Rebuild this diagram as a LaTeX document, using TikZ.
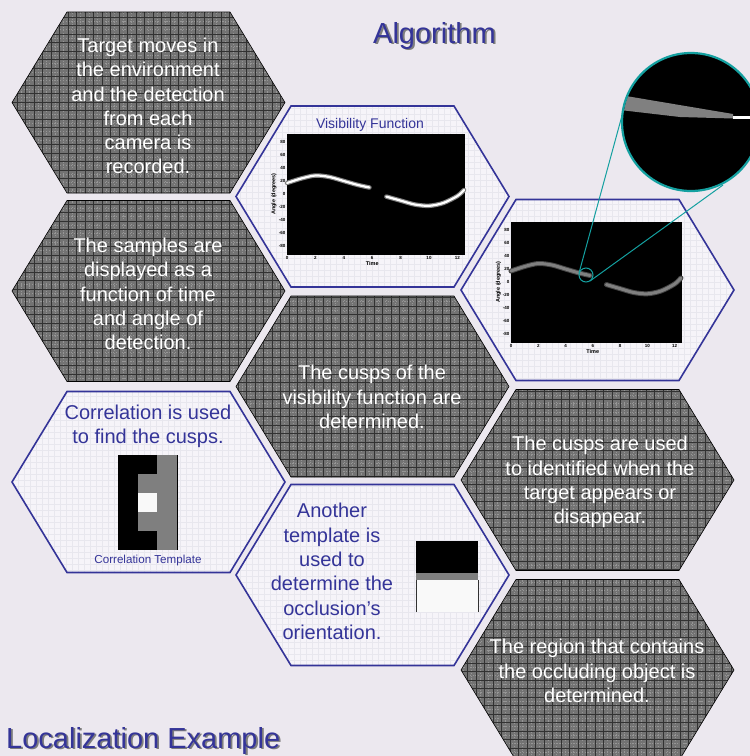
\documentclass[tikz,border=0pt]{standalone}
\usepackage{fontspec}
\setmainfont{Liberation Sans}
\usetikzlibrary{calc}
\definecolor{bg}{RGB}{236,232,239}
\definecolor{navy}{RGB}{52,52,152}
\definecolor{hexlight}{RGB}{246,244,249}
\definecolor{hexgrid}{RGB}{232,231,238}
\definecolor{darkfill}{RGB}{115,115,115}
\definecolor{darkline}{RGB}{50,50,50}
\definecolor{darkdot}{RGB}{150,150,150}
\definecolor{tealc}{RGB}{20,160,160}
\definecolor{tgray}{RGB}{127,127,127}
\definecolor{twhite}{RGB}{249,249,249}
\definecolor{shadowc}{RGB}{125,125,125}

\newcommand\hexat[2]{({#1-136.5},{#2}) -- ({#1-81.5},{#2-90.5}) -- ({#1+81.5},{#2-90.5}) -- ({#1+136.5},{#2}) -- ({#1+81.5},{#2+90.5}) -- ({#1-81.5},{#2+90.5}) -- cycle}

\newcommand\darkhex[2]{%
  \begin{scope}
    \clip \hexat{#1}{#2};
    \fill[darkfill] ({#1-140},{#2-95}) rectangle ({#1+140},{#2+95});
    \begin{scope}[shift={(4.25,4.25)}]
      \draw[darkdot,line width=0.6,dash pattern=on 1.2pt off 1.6pt,step=8.5pt] ({#1-146},{#2-101}) grid ({#1+140},{#2+95});
    \end{scope}
    \draw[darkline,line width=0.9,step=8.5pt] ({#1-140},{#2-95}) grid ({#1+140},{#2+95});
  \end{scope}
  \draw[black,line width=0.6] \hexat{#1}{#2};
}

\newcommand\lighthex[2]{%
  \fill[hexlight] \hexat{#1}{#2};
  \begin{scope}
    \clip \hexat{#1}{#2};
    \draw[hexgrid,line width=0.5,step=6pt] ({#1-140},{#2-95}) grid ({#1+140},{#2+95});
  \end{scope}
  \draw[navy,line width=1.6] \hexat{#1}{#2};
}

% plot drawn in local coordinates: 178 x 121
\newcommand\visplot[1]{%
  \fill[black] (0,0) rectangle (178,121);
  #1
  \foreach \v/\yy in {80/8,60/21,40/34,20/47,0/60,-20/73,-40/86,-60/99,-80/112}
    \node[ticklab,anchor=east] at (-1,\yy) {\v};
  \foreach \v/\xx in {0/0,2/28.4,4/56.8,6/85.2,8/113.6,10/142,12/170.4}
    \node[ticklab,anchor=north] at (\xx,122) {\v};
  \node[axlab,anchor=north] at (85.2,127) {Time};
  \node[axlab,rotate=90] at (-13,60) {Angle (degrees)};
}
\newcommand\curveA{(0,49) (14.2,44.5) (28.4,41.5) (42.6,43) (56.8,47) (71,51) (82.4,53.5)}
\newcommand\curveB{(99.4,62.6) (113.6,66.6) (127.8,70.5) (142,71.8) (156.2,69) (170.4,62) (177,56)}
\newcommand\shadowed[1]{\makebox[0pt][l]{\hspace{1.8pt}\raisebox{-1.8pt}{\textcolor{shadowc}{#1}}}#1}

\tikzset{
  darktext/.style={text=white,align=center,font=\fontsize{20}{24.3}\selectfont,inner sep=0},
  lighttext/.style={text=navy,align=center,font=\fontsize{20}{24.3}\selectfont,inner sep=0},
  ticklab/.style={font=\fontsize{4.5}{5}\selectfont\bfseries,text=black,inner sep=0.5},
  axlab/.style={font=\fontsize{5.5}{6}\selectfont\bfseries,text=black,inner sep=0},
  titletext/.style={font=\fontsize{29}{34}\selectfont,inner sep=0,text=navy}
}

\begin{document}
\begin{tikzpicture}[x=1pt,y=-1pt]
\useasboundingbox (0,0) rectangle (750,756);
\fill[bg] (0,0) rectangle (750,756);

% hexagons
\darkhex{148.5}{102.5}
\darkhex{148.5}{291}
\lighthex{148.5}{482}
\lighthex{372.5}{196.5}
\darkhex{372.5}{386.5}
\lighthex{372.5}{575}
\lighthex{597.5}{290}
\darkhex{597.5}{480}
\darkhex{597.5}{670}

% titles
\node[titletext,anchor=base west] (alg) at (373,43) {\shadowed{Algorithm}};
\node[titletext,anchor=base west] (loc) at (6,748) {\shadowed{Localization Example}};

% dark hex texts
\node[darktext] (t1) at (148,106) {Target moves in\\the environment\\and the detection\\from each\\camera is\\recorded.};
\node[darktext] (t2) at (148,294) {The samples are\\displayed as a\\function of time\\and angle of\\detection.};
\node[darktext] (t3) at (372,397) {The cusps of the\\visibility function are\\determined.};
\node[darktext] (t4) at (600,482) {The cusps are used\\to identified when the\\target appears or\\disappear.};
\node[darktext] (t5) at (597,671) {The region that contains\\the occluding object is\\determined.};

% light hex texts
\node[lighttext] (t6) at (148,426.5) {Correlation is used\\to find the cusps.};
\node[lighttext] (t7) at (332,571.5) {Another\\template is\\used to\\determine the\\occlusion’s\\orientation.};
\node[text=navy,font=\fontsize{11.6}{13}\selectfont,inner sep=0] (cap1) at (148,560) {Correlation Template};
\node[text=navy,font=\fontsize{14}{16}\selectfont,inner sep=0] (cap2) at (370,125) {Visibility Function};

% correlation template
\fill[black] (118,455) rectangle (137.7,550);
\fill[tgray] (157.3,455) rectangle (177,550);
\fill[black] (137.7,455) rectangle (157.3,474);
\fill[tgray] (137.7,474) rectangle (157.3,493);
\fill[twhite] (137.7,493) rectangle (157.3,512);
\fill[tgray] (137.7,512) rectangle (157.3,531);
\fill[black] (137.7,531) rectangle (157.3,550);
\draw[black,line width=0.6] (177,455) -- (177,550);

% orientation template
\fill[black] (416,541) rectangle (478,573);
\fill[tgray] (416,573) rectangle (478,580);
\fill[twhite] (416,580) rectangle (478,612);
\draw[darkline,line width=0.7] (416,580) -- (416,612) (478,580) -- (478,612);

% plot 1
\begin{scope}[shift={(287,134)}]
  \visplot{%
    \draw[gray,line width=4.5,line cap=round] plot[smooth] coordinates {\curveA};
    \draw[white,line width=2.2,line cap=round] plot[smooth] coordinates {\curveA};
    \draw[gray,line width=4.5,line cap=round] plot[smooth] coordinates {\curveB};
    \draw[white,line width=2.2,line cap=round] plot[smooth] coordinates {\curveB};
  }
\end{scope}

% plot 2
\begin{scope}[shift={(511,222)},xscale=0.96]
  \visplot{%
    \draw[gray!55!black,line width=5,line cap=round] plot[smooth] coordinates {\curveA};
    \draw[gray,line width=3,line cap=round] plot[smooth] coordinates {\curveA};
    \draw[gray!55!black,line width=5,line cap=round] plot[smooth] coordinates {\curveB};
    \draw[gray,line width=3,line cap=round] plot[smooth] coordinates {\curveB};
  }
\end{scope}

% zoom
\node[circle,draw=tealc,line width=1,minimum size=14,inner sep=0] (zsmall) at (586,275) {};
\coordinate (s1) at (579,273);
\coordinate (s2) at (590,281);
\coordinate (b1) at (623,112);
\coordinate (b2) at (723,185);
\draw[tealc,line width=1] (s1) -- (b1);
\draw[tealc,line width=1] (s2) -- (b2);
\node[circle,fill=black,minimum size=138,inner sep=0] (zbig) at (691,122) {};
\begin{scope}
  \clip (691,122) circle[radius=68];
  \fill[gray] (620,95) -- (733,114) -- (733,118.5) -- (680,117) -- (620,110) -- cycle;
  \fill[white] (733,115.5) rectangle (752,119);
\end{scope}
\draw[tealc,line width=2.2] (zbig) circle[radius=69];
\end{tikzpicture}
\end{document}
